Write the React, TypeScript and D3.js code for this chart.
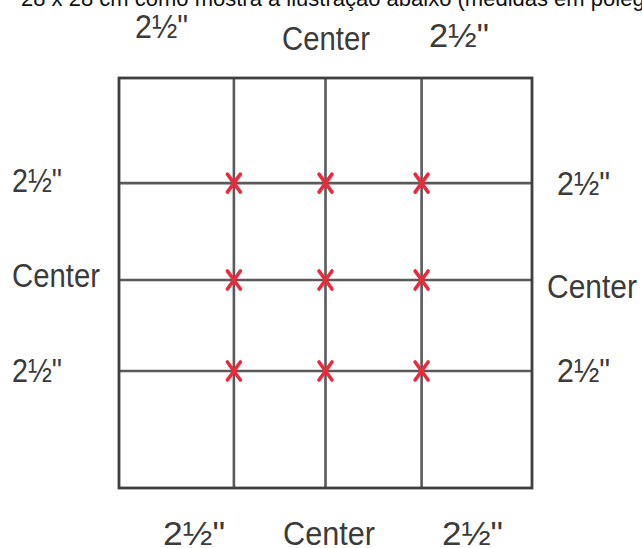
import React from "react";
import * as d3 from "d3";

// Block size (inches) and marking lines
const blockSize = [0, 11];
const verticalLines = [3.06, 5.5, 8.06];
const horizontalLines = [2.82, 5.42, 7.86];
const markLabels = ["2½\"", "Center", "2½\""];
const caption = "28 x 28 cm como mostra a ilustração abaixo (medidas em polegadas)";

const W = 642;
const H = 548;

export default function App() {
  const x = d3.scaleLinear().domain(blockSize).range([119, 532]);
  const y = d3.scaleLinear().domain(blockSize).range([78, 488]);

  const marks: { cx: number; cy: number }[] = [];
  horizontalLines.forEach((hv) =>
    verticalLines.forEach((vv) => marks.push({ cx: x(vv), cy: y(hv) }))
  );

  const labelFont = "'Liberation Sans', Arial, sans-serif";
  const labelColor = "#3b3b3b";

  // [left x, baseline y, width]
  const topPos = [
    [135, 38, 53],
    [282, 50, 88],
    [429, 47, 60],
  ];
  const leftPos = [
    [12, 192, 50],
    [12, 287, 88],
    [12, 382, 50],
  ];
  const rightPos = [
    [557, 195, 53],
    [547, 298, 90],
    [557, 382, 53],
  ];
  const bottomPos = [
    [163, 545, 62],
    [283, 545, 92],
    [442, 545, 61],
  ];

  const renderLabels = (pos: number[][], key: string) =>
    markLabels.map((t, i) => (
      <text
        key={key + i}
        x={pos[i][0]}
        y={pos[i][1]}
        fontFamily={labelFont}
        fontSize={34}
        fill={labelColor}
        textLength={pos[i][2]}
        lengthAdjust="spacingAndGlyphs"
      >
        {t}
      </text>
    ));

  const [x0, x1] = x.range();
  const [y0, y1] = y.range();

  return (
    <svg
      width={W}
      height={H}
      style={{ position: "absolute", left: 0, top: 0, background: "#fff" }}
    >
      <rect x={0} y={0} width={W} height={H} fill="#fff" />
      <text
        x={21}
        y={6}
        fontFamily="'Liberation Sans', Arial, sans-serif"
        fontSize={22}
        fill="#111"
      >
        {caption}
      </text>

      {/* interior lines */}
      {verticalLines.map((v, i) => (
        <line
          key={"v" + i}
          x1={x(v)}
          x2={x(v)}
          y1={y0}
          y2={y1}
          stroke="#5a5a5a"
          strokeWidth={2.6}
        />
      ))}
      {horizontalLines.map((h, i) => (
        <line
          key={"h" + i}
          x1={x0}
          x2={x1}
          y1={y(h)}
          y2={y(h)}
          stroke="#5a5a5a"
          strokeWidth={2.6}
        />
      ))}
      {/* outer frame */}
      <rect
        x={x0}
        y={y0}
        width={x1 - x0}
        height={y1 - y0}
        fill="none"
        stroke="#3f3f3f"
        strokeWidth={2.8}
      />

      {/* red X marks */}
      {marks.map((m, i) => (
        <g key={"m" + i} stroke="#ec2a3c" strokeWidth={3.6} strokeLinecap="round">
          <line x1={m.cx - 6.5} y1={m.cy - 9} x2={m.cx + 6.5} y2={m.cy + 9} />
          <line x1={m.cx + 6.5} y1={m.cy - 9} x2={m.cx - 6.5} y2={m.cy + 9} />
        </g>
      ))}

      {renderLabels(topPos, "t")}
      {renderLabels(leftPos, "l")}
      {renderLabels(rightPos, "r")}
      {renderLabels(bottomPos, "b")}
    </svg>
  );
}
